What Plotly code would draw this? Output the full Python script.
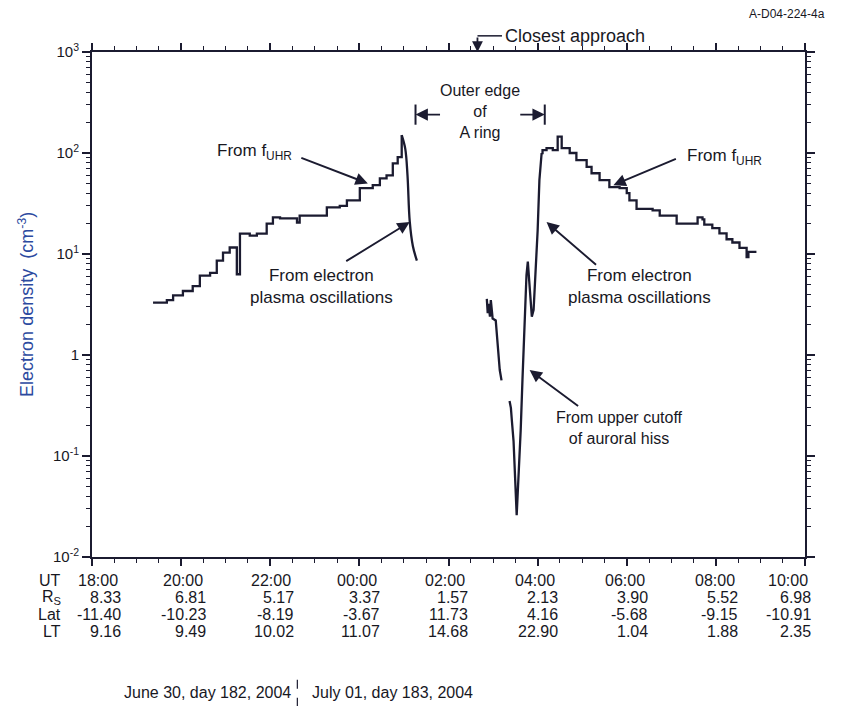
import math
import plotly.graph_objects as go

# Time axis: hours after 18:00 UT on June 30, 2004 (day 182)
# ---- Inbound f_UHR staircase (density, cm^-3)
in_uhr_t = [1.37, 1.68, 1.82, 2.04, 2.26, 2.42, 2.65, 2.80, 2.94, 3.09, 3.25, 3.32,
            3.54, 3.70, 3.92, 4.06, 4.22, 4.60, 4.66, 5.11, 5.27, 5.56, 5.72, 6.01,
            6.30, 6.46, 6.61, 6.75, 6.86, 6.95]
in_uhr_n = [3.3, 3.5, 3.9, 4.3, 4.8, 6.1, 6.5, 8.6, 10.3, 11.6, 6.3, 15.9,
            15.2, 15.9, 20.0, 23.0, 22.5, 20.5, 24.0, 24.0, 29.0, 30.0, 34.0, 45.0,
            48.0, 56.0, 60.0, 79.0, 91.0, 150.0]
# ---- Inbound electron plasma oscillations
in_epo_t = [6.95, 7.03, 7.08, 7.13, 7.20, 7.29]
in_epo_n = [150.0, 110.0, 60.0, 21.0, 12.0, 8.6]
# ---- Auroral hiss upper cutoff, first segment
hiss1_t = [8.86, 8.88, 8.90, 8.93, 8.95, 8.99, 9.06, 9.15, 9.19]
hiss1_n = [3.6, 2.6, 3.2, 2.4, 3.5, 2.3, 2.2, 0.71, 0.56]
# ---- Auroral hiss + outbound electron plasma oscillations
hiss2_t = [9.37, 9.40, 9.42, 9.46, 9.53, 9.57, 9.62, 9.66, 9.71, 9.75, 9.78,
           9.82, 9.87, 9.91, 9.96, 10.00, 10.04, 10.09]
hiss2_n = [0.35, 0.30, 0.23, 0.14, 0.026, 0.058, 0.18, 0.57, 1.8, 6.2, 8.4,
           4.4, 2.4, 2.8, 7.0, 17.0, 54.0, 100.0]
# ---- Outbound f_UHR staircase
out_uhr_t = [10.09, 10.11, 10.20, 10.34, 10.45, 10.54, 10.72, 10.87, 11.10, 11.21,
             11.39, 11.61, 11.84, 12.00, 12.06, 12.22, 12.44, 12.58, 12.74, 13.03,
             13.12, 13.48, 13.59, 13.70, 13.74, 13.92, 14.08, 14.24, 14.37, 14.53,
             14.69, 14.73, 14.91]
out_uhr_n = [100.0, 107.0, 112.0, 107.0, 145.0, 112.0, 100.0, 85.0, 73.0, 63.0,
             54.0, 46.0, 45.0, 40.0, 34.0, 28.0, 28.0, 27.0, 24.0, 24.0,
             20.0, 20.0, 23.0, 22.0, 19.5, 18.0, 16.0, 14.0, 13.0, 11.5,
             9.3, 10.5, 10.5]

# Bottom ephemeris table
ut_labels = ["18:00", "20:00", "22:00", "00:00", "02:00", "04:00", "06:00", "08:00", "10:00"]
rs_vals = ["8.33", "6.81", "5.17", "3.37", "1.57", "2.13", "3.90", "5.52", "6.98"]
lat_vals = ["-11.40", "-10.23", "-8.19", "-3.67", "11.73", "4.16", "-5.68", "-9.15", "-10.91"]
lt_vals = ["9.16", "9.49", "10.02", "11.07", "14.68", "22.90", "1.04", "1.88", "2.35"]
tick_hours = [0, 2, 4, 6, 8, 10, 12, 14, 16]

y_tickvals = [1e-2, 1e-1, 1, 10, 100, 1000]
y_ticktext = ["10<sup>-2</sup>", "10<sup>-1</sup>", "1", "10<sup>1</sup>", "10<sup>2</sup>", "10<sup>3</sup>"]
y_minor = [m * 10 ** e for e in range(-2, 3) for m in range(2, 10)]

closest_approach_t = 8.65
a_ring_in_t = 7.26
a_ring_out_t = 10.16

LINE = "#1b1b30"
FONT = "Liberation Sans, Arial, sans-serif"
TXT = "#18181f"
L = math.log10

fig = go.Figure()
line_style = dict(color=LINE, width=2.3)
fig.add_trace(go.Scatter(x=in_uhr_t, y=in_uhr_n, mode="lines", line=dict(shape="hv", **line_style)))
fig.add_trace(go.Scatter(x=in_epo_t, y=in_epo_n, mode="lines", line=dict(shape="spline", **line_style)))
fig.add_trace(go.Scatter(x=hiss1_t, y=hiss1_n, mode="lines", line=line_style))
fig.add_trace(go.Scatter(x=hiss2_t, y=hiss2_n, mode="lines", line=line_style))
fig.add_trace(go.Scatter(x=out_uhr_t, y=out_uhr_n, mode="lines", line=dict(shape="hv", **line_style)))

# page body has an 8px margin, so the figure is offset by 8px; margins compensate
fig.update_layout(
    width=852, height=717,
    margin=dict(l=84, r=55, t=44, b=168),
    paper_bgcolor="white", plot_bgcolor="white",
    showlegend=False,
    font=dict(family=FONT, color=TXT, size=16),
)
fig.update_xaxes(
    range=[0, 16], showgrid=False, zeroline=False,
    showline=True, linecolor=LINE, linewidth=2, mirror="ticks",
    tickvals=tick_hours, ticks="outside", ticklen=7, tickwidth=1.5, tickcolor=LINE,
    showticklabels=False,
    minor=dict(dtick=0.5, ticks="outside", ticklen=4, tickwidth=1.2, tickcolor=LINE, showgrid=False),
)
fig.update_yaxes(
    type="log", range=[-2, 3], showgrid=False, zeroline=False,
    showline=True, linecolor=LINE, linewidth=2, mirror="ticks",
    tickvals=y_tickvals, ticktext=y_ticktext,
    ticks="outside", ticklen=8, tickwidth=1.5, tickcolor=LINE,
    tickfont=dict(size=15, color=TXT),
    minor=dict(tickmode="array", tickvals=y_minor, ticks="outside", ticklen=4,
               tickwidth=1.2, tickcolor=LINE, showgrid=False),
)

ann = []
def txt(x, y, text, xref="x", yref="y", size=17, color=TXT, **kw):
    d = dict(x=x, y=y, xref=xref, yref=yref, text=text, showarrow=False,
             xanchor="center", yanchor="middle",
             font=dict(family=FONT, size=size, color=color))
    d.update(kw)
    ann.append(d)

def arrow(x, y, ax, ay):
    ann.append(dict(x=x, y=L(y), xref="x", yref="y", ax=ax, ay=ay, axref="pixel", ayref="pixel",
                    text="", showarrow=True, arrowhead=2, arrowsize=1.3, arrowwidth=1.9,
                    arrowcolor=LINE))

# Inbound labels
txt(3.65, L(102), "From f<sub>UHR</sub>")
arrow(6.19, 50, -68, -26)
txt(5.16, L(4.8), "From electron<br>plasma oscillations", size=17)
arrow(7.13, 20.7, -65, 40)
# Outbound labels
txt(14.2, L(91), "From f<sub>UHR</sub>")
arrow(11.70, 48, 64, -27)
txt(12.29, L(4.8), "From electron<br>plasma oscillations", size=17)
arrow(10.2, 20.7, 51, 44)
txt(11.84, L(0.19), "From upper cutoff<br>of auroral hiss", size=16)
arrow(9.82, 0.71, 50, 37)
# Outer edge of A ring
txt((a_ring_in_t + a_ring_out_t) / 2, L(255), "Outer edge<br>of<br>A ring", size=16)
arrow(a_ring_in_t, 240, 26, 0)
arrow(a_ring_out_t, 240, -26, 0)
# Closest approach
txt(closest_approach_t, 3, "Closest approach", xanchor="left", yanchor="middle",
    xshift=26, yshift=16, size=18)
ann.append(dict(x=closest_approach_t, y=3, xref="x", yref="y", ax=0, ay=-16,
                text="", showarrow=True, arrowhead=2, arrowsize=1.2, arrowwidth=1.8, arrowcolor=LINE,
                standoff=0))
txt(1.0, 1.0, "A-D04-224-4a", xref="paper", yref="paper", size=12, xanchor="right",
    yshift=38, xshift=22)

# Y axis title
txt(-0.092, 0.50, "Electron density  (cm<sup>-3</sup>)", xref="paper", yref="paper", size=18,
    textangle=-90, color="#2c4aa0")

# Ephemeris table
rows = [("UT", ut_labels, -3), ("R<sub>S</sub>", rs_vals, 0), ("Lat", lat_vals, 0), ("LT", lt_vals, 0)]
row_y = [-0.046, -0.080, -0.114, -0.148]
col_shift = [31, 27, 26, 23, 21, 22, 23, 24, 8]
for (label, vals, adj), yy in zip(rows, row_y):
    txt(-0.041, yy, label, xref="paper", yref="paper", xanchor="right", size=16)
    for h, v, sh in zip(tick_hours, vals, col_shift):
        txt(h, yy, v, xref="x", yref="paper", xanchor="right", xshift=sh + adj, size=16)

txt(0.162, -0.268, "June 30, day 182, 2004", xref="paper", yref="paper", size=16)
txt(0.421, -0.268, "July 01, day 183, 2004", xref="paper", yref="paper", size=16)

fig.update_layout(annotations=ann)
fig.add_shape(type="line", xref="paper", yref="paper", x0=0.288, x1=0.288, y0=-0.243, y1=-0.295,
              line=dict(color=LINE, width=1.2, dash="dash"))
fig.add_shape(type="line", xref="x", yref="paper", x0=closest_approach_t, x1=closest_approach_t + 0.55,
              y0=1.032, y1=1.032, line=dict(color=LINE, width=1.5))
# A ring edge bars
for t in (a_ring_in_t, a_ring_out_t):
    fig.add_shape(type="line", xref="x", yref="y", x0=t, x1=t, y0=10 ** 2.28, y1=10 ** 2.48,
                  line=dict(color=LINE, width=2))

fig.write_html("out.html")
